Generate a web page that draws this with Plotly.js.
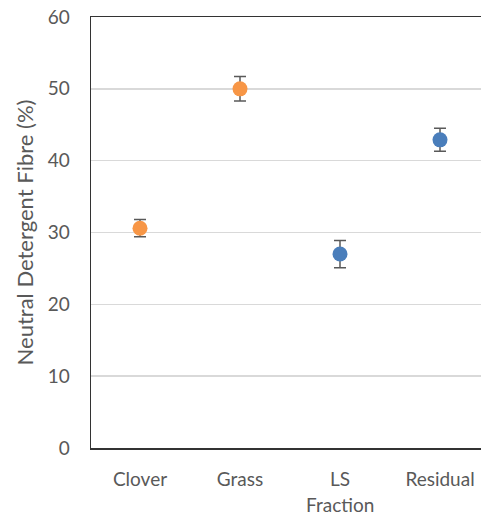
<!DOCTYPE html>
<html>
<head>
<meta charset="utf-8">
<script src="https://cdn.plot.ly/plotly-3.0.1.min.js"></script>
<style>html,body{margin:0;padding:0;background:#fff;}#chart{width:481px;height:515px;}</style>
</head>
<body>
<div id="chart"></div>
<script>
const categories = ["Clover", "Grass", "LS", "Residual"];
const orangeCats = ["Clover", "Grass"];
const orangeVals = [30.6, 50.0];
const orangeErr = [1.2, 1.7];
const blueCats = ["LS", "Residual"];
const blueVals = [27.0, 42.9];
const blueErr = [1.9, 1.6];
const yTicks = [0, 10, 20, 30, 40, 50, 60];
const xTitle = "Fraction";
const yTitle = "Neutral Detergent Fibre (%)";

const fontFam = "Lato, Open Sans, sans-serif";
const errStyle = {type: "data", visible: true, thickness: 1.5, width: 6, color: "#595959"};

const traces = [
  {x: orangeCats, y: orangeVals, type: "scatter", mode: "markers",
   marker: {color: "#F79646", size: 15},
   error_y: Object.assign({array: orangeErr}, errStyle), hoverinfo: "none"},
  {x: blueCats, y: blueVals, type: "scatter", mode: "markers",
   marker: {color: "#4A7EBB", size: 15},
   error_y: Object.assign({array: blueErr}, errStyle), hoverinfo: "none"}
];

const layout = {
  width: 481, height: 515,
  margin: {l: 91, r: 0, t: 17, b: 67},
  paper_bgcolor: "#fff", plot_bgcolor: "#fff",
  showlegend: false,
  font: {family: fontFam, color: "#595959"},
  xaxis: {
    type: "category", categoryorder: "array", categoryarray: categories,
    range: [-0.49, 3.41], showgrid: false, zeroline: false,
    showline: true, linecolor: "#333", linewidth: 1.5, mirror: true,
    ticks: "outside", ticklen: 14, tickcolor: "rgba(0,0,0,0)",
    tickfont: {size: 19, color: "#595959", family: fontFam}
  },
  yaxis: {
    range: [0, 60], tickvals: yTicks, ticktext: yTicks.map(String),
    showgrid: true, gridcolor: "#d9d9d9", gridwidth: 1.5, zeroline: false,
    showline: true, linecolor: "#333", linewidth: 1.5,
    ticks: "outside", ticklen: 16, tickcolor: "rgba(0,0,0,0)",
    tickfont: {size: 19, color: "#595959", family: fontFam},
    title: {text: yTitle, font: {size: 22, color: "#595959", family: fontFam}, standoff: 8}
  },
  annotations: [
    {text: xTitle, xref: "x", x: "LS", yref: "paper", y: -0.132, yanchor: "middle",
     showarrow: false, font: {size: 19, color: "#595959", family: fontFam}}
  ]
};

Plotly.newPlot("chart", traces, layout, {staticPlot: true, displayModeBar: false});
</script>
</body>
</html>
